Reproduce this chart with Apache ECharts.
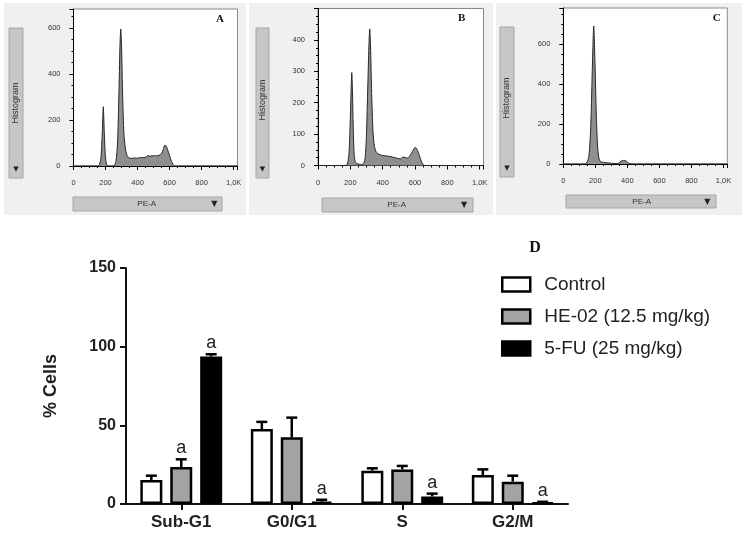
<!DOCTYPE html>
<html><head><meta charset="utf-8">
<script src="https://cdn.jsdelivr.net/npm/echarts@6/dist/echarts.min.js"></script>
<style>html,body{margin:0;padding:0;background:#fff}#c{width:745px;height:537px}</style>
</head><body><div id="c"></div>
<script>
// ---- Histogram data (PE-A channel value, count) ----
const histA = [[0,0],[150,0],[162,5],[172,40],[180,150],[186,258],[192,150],[199,40],[207,5],[215,0],[240,0],[255,3],[265,20],[275,100],[283,300],[290,520],[295,596],[300,520],[307,300],[315,140],[325,70],[335,45],[345,36],[360,33],[380,35],[400,34],[420,37],[440,36],[455,40],[465,46],[475,43],[490,44],[505,45],[520,44],[535,47],[550,55],[560,72],[570,90],[578,88],[588,70],[600,45],[612,20],[622,7],[635,0],[1024,0]];
const histB = [[0,0],[170,0],[182,5],[192,40],[200,150],[206,260],[209,296],[213,240],[218,120],[223,40],[230,12],[240,6],[255,4],[270,3],[282,6],[292,25],[300,100],[308,250],[315,380],[320,435],[325,380],[332,230],[340,110],[348,65],[358,45],[370,38],[385,34],[400,32],[430,30],[460,27],[490,23],[510,21],[525,27],[540,25],[555,24],[570,32],[585,45],[602,58],[612,52],[625,35],[638,15],[648,5],[660,0],[1024,0]];
const histC = [[0,0],[130,0],[146,5],[160,40],[172,200],[182,500],[190,690],[198,500],[206,250],[214,90],[222,30],[232,12],[250,8],[270,6],[290,5],[310,3],[330,2],[345,5],[360,13],[375,18],[390,16],[402,8],[415,2],[430,0],[1024,0]];
const histYMax = [683, 500, 780];
const histYStep = [200, 100, 200];
const histPanelLabels = ['A', 'B', 'C'];

// ---- Bar chart data ----
const categories = ['Sub-G1', 'G0/G1', 'S', 'G2/M'];
const seriesNames = ['Control', 'HE-02 (12.5 mg/kg)', '5-FU (25 mg/kg)'];
const controlVals = [15.3, 47.6, 21.2, 18.4];
const controlErr  = [2.7, 4.6, 1.5, 3.6];
const he02Vals    = [23.5, 42.4, 22.0, 14.2];
const he02Err     = [4.9, 12.5, 2.2, 3.8];
const fuVals      = [93.8, 1.5, 4.8, 0.8];
const fuErr       = [1.4, 1.2, 1.8, 0.6];
const controlSig  = [0, 0, 0, 0];
const he02Sig     = [1, 0, 0, 0];
const fuSig       = [1, 1, 1, 1];

const barColors = ['#ffffff', '#a3a3a3', '#000000'];
const SANS = '"Liberation Sans", Arial, sans-serif';

const histGrids = [
  {left: 73.5, top: 9, width: 164, height: 157},
  {left: 318, top: 8.5, width: 165.5, height: 157},
  {left: 563.3, top: 8, width: 164, height: 156}
];
const grids = histGrids.map(g => Object.assign({show: true, backgroundColor: '#fff', borderColor: '#8a8a8a', borderWidth: 1}, g));
grids.push({left: 126, top: 268, width: 442, height: 236});

const xAxes = [], yAxes = [], series = [];
[histA, histB, histC].forEach((h, i) => {
  xAxes.push({
    type: 'value', gridIndex: i, min: 0, max: 1024, interval: 200,
    axisLine: {show: true, onZero: false, lineStyle: {color: '#000', width: 1}},
    axisTick: {show: true, length: 4, lineStyle: {color: '#000'}},
    minorTick: {show: true, splitNumber: 4, length: 2, lineStyle: {color: '#000'}},
    splitLine: {show: false},
    axisLabel: {fontSize: 7.5, color: '#333', margin: 13, fontFamily: SANS, showMaxLabel: false,
      formatter: v => v === 1000 ? '1,0K' : String(v)}
  });
  yAxes.push({
    type: 'value', gridIndex: i, min: 0, max: histYMax[i], interval: histYStep[i],
    axisLine: {show: true, lineStyle: {color: '#000', width: 1}},
    axisTick: {show: true, length: 4, lineStyle: {color: '#000'}},
    minorTick: {show: true, splitNumber: 4, length: 2, lineStyle: {color: '#000'}},
    splitLine: {show: false},
    axisLabel: {fontSize: 7.5, color: '#333', margin: 13, fontFamily: SANS, showMaxLabel: false}
  });
  series.push({
    type: 'line', xAxisIndex: i, yAxisIndex: i, data: h, showSymbol: false, smooth: 0.25,
    lineStyle: {color: '#262626', width: 1}, areaStyle: {color: '#8f8f8f', opacity: 1},
    silent: true
  });
});

xAxes.push({
  type: 'category', gridIndex: 3, data: categories,
  axisLine: {show: true, lineStyle: {color: '#111', width: 2}},
  axisTick: {show: true, alignWithLabel: true, length: 6, lineStyle: {color: '#111', width: 2}},
  axisLabel: {fontSize: 17, fontWeight: 'bold', color: '#222', margin: 10, fontFamily: SANS}
});
yAxes.push({
  type: 'value', gridIndex: 3, min: 0, max: 150, interval: 50,
  name: '% Cells', nameLocation: 'middle', nameGap: 66, nameRotate: 90,
  nameTextStyle: {fontSize: 18, fontWeight: 'bold', color: '#222', fontFamily: SANS},
  axisLine: {show: true, lineStyle: {color: '#111', width: 2}},
  axisTick: {show: true, length: 6, lineStyle: {color: '#111', width: 2}},
  splitLine: {show: false},
  axisLabel: {fontSize: 16, fontWeight: 'bold', color: '#222', margin: 10, fontFamily: SANS}
});

const groups = [[controlVals, controlErr, controlSig], [he02Vals, he02Err, he02Sig], [fuVals, fuErr, fuSig]];
groups.forEach((g, k) => {
  series.push({
    name: seriesNames[k], type: 'bar', xAxisIndex: 3, yAxisIndex: 3, data: g[0],
    barWidth: 22, barGap: '36%',
    itemStyle: {color: barColors[k], borderColor: '#000', borderWidth: 2.5}
  });
});
groups.forEach((g, k) => {
  series.push({
    type: 'custom', xAxisIndex: 3, yAxisIndex: 3, z: 5,
    data: g[0].map((v, i) => [i, v, g[1][i], g[2][i]]),
    encode: {x: 0, y: 1},
    renderItem: function (params, api) {
      const i = api.value(0), v = api.value(1), e = api.value(2), s = api.value(3);
      const base = api.coord([i, v]);
      const top = api.coord([i, v + e]);
      const bw = 22, gap = bw * 0.36;
      const x = base[0] + (k - 1) * (bw + gap);
      const children = [
        {type: 'line', shape: {x1: x, y1: base[1], x2: x, y2: top[1]}, style: {stroke: '#000', lineWidth: 2.5}},
        {type: 'line', shape: {x1: x - 5.5, y1: top[1], x2: x + 5.5, y2: top[1]}, style: {stroke: '#000', lineWidth: 2.5}}
      ];
      if (s) {
        children.push({type: 'text', style: {text: 'a', x: x, y: top[1] - 2, align: 'center', verticalAlign: 'bottom',
          font: '18px ' + SANS, fill: '#222'}});
      }
      return {type: 'group', children: children};
    }
  });
});

// ---- decorative FlowJo-style panel chrome ----
const graphic = [];
function rect(x, y, w, h, fill, stroke) {
  graphic.push({type: 'rect', z: -10, shape: {x: x, y: y, width: w, height: h}, style: {fill: fill, stroke: stroke || null, lineWidth: 1}, silent: true});
}
function txt(x, y, t, font, fill, rot, align) {
  graphic.push({type: 'text', x: x, y: y, rotation: rot || 0, z: 10,
    style: {text: t, font: font, fill: fill || '#333', align: align || 'center', verticalAlign: 'middle'}, silent: true});
}
rect(4, 3, 242, 212, '#f0f0f0');
rect(249, 3, 244, 212, '#f0f0f0');
rect(496, 3, 246, 212, '#f0f0f0');
const histBtns = [[9, 28, 14, 150, 103], [256, 28, 13, 150, 100], [500, 27, 14, 150, 98]];
const peBtns = [[73, 197, 149, 14, 146.7, 214.3], [322, 198, 151, 14, 396.7, 464], [566, 195, 150, 13, 641.7, 707.3]];
histBtns.forEach(b => {
  rect(b[0], b[1], b[2], b[3], '#c6c6c6', '#a6a6a6');
  txt(b[0] + b[2] / 2, b[4], 'Histogram', '9px ' + SANS, '#333', Math.PI / 2);
  txt(b[0] + b[2] / 2, b[1] + b[3] - 9, '▼', '7px "DejaVu Sans"', '#222');
});
peBtns.forEach(b => {
  rect(b[0], b[1], b[2], b[3], '#c6c6c6', '#a6a6a6');
  txt(b[4], b[1] + b[3] / 2, 'PE-A', '8px ' + SANS, '#333');
  txt(b[5], b[1] + b[3] / 2, '▼', '8px "DejaVu Sans"', '#222');
});
const labelPos = [[220, 19], [461.7, 18], [716.7, 18]];
histPanelLabels.forEach((l, i) => txt(labelPos[i][0], labelPos[i][1], l, 'bold 11px "Liberation Serif", serif', '#111'));
txt(535, 248, 'D', 'bold 16px "Liberation Serif", serif', '#111');

const chart = echarts.init(document.getElementById('c'), null, {renderer: 'canvas'});
chart.setOption({
  animation: false,
  backgroundColor: '#fff',
  grid: grids,
  xAxis: xAxes,
  yAxis: yAxes,
  series: series,
  graphic: graphic,
  legend: {
    orient: 'vertical', left: 501, top: 275, padding: 0, itemGap: 13,
    itemWidth: 28, itemHeight: 14, icon: 'rect',
    textStyle: {fontSize: 19, color: '#222', fontFamily: SANS, padding: [0, 0, 0, 9]},
    data: seriesNames.map((n, k) => ({name: n, itemStyle: {color: barColors[k], borderColor: '#000', borderWidth: 2.5}}))
  }
});
</script></body></html>
